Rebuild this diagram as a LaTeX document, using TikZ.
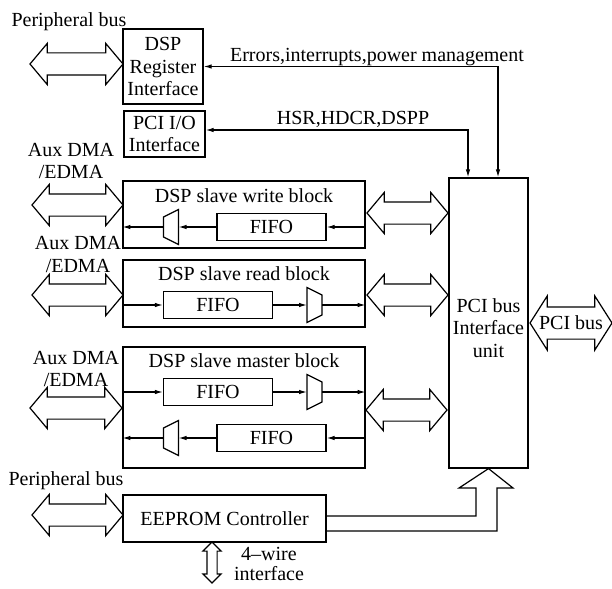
\documentclass[tikz,border=0pt]{standalone}
\usepackage{fontspec}
\setmainfont{Liberation Serif}
\usetikzlibrary{arrows.meta,shapes.arrows,calc}

\tikzset{
  blk/.style={draw,rectangle,inner sep=0pt},
  fifo/.style={blk,minimum width=109pt,minimum height=27pt},
  bus/.style={draw,double arrow,inner xsep=0pt,inner ysep=10.5pt,
    double arrow head extend=9.5pt,double arrow tip angle=100},
  muxrl/.pic={
    \draw (-7.5,-10) -- (7.5,-17.5) -- (7.5,17.5) -- (-7.5,10) -- cycle;
    \coordinate (-in) at (7.5,0);
    \coordinate (-out) at (-7.5,0);
  },
  muxlr/.pic={
    \draw (-7.5,-17.5) -- (7.5,-10) -- (7.5,10) -- (-7.5,17.5) -- cycle;
    \coordinate (-in) at (-7.5,0);
    \coordinate (-out) at (7.5,0);
  },
}

\begin{document}
\begin{tikzpicture}[x=1pt,y=-1pt,line width=1.2pt,
    font=\fontsize{20}{22.5}\selectfont,>={Latex[length=8pt,width=4.5pt]}]
  \useasboundingbox (0,0) rectangle (612,588);

  \node[blk,minimum width=80pt,minimum height=75pt,align=center] (reg) at (163,66.5) {DSP\\Register\\Interface};
  \node[blk,minimum width=81pt,minimum height=46pt,align=center] (pio) at (164.5,134) {PCI I/O\\Interface};
  \node[blk,minimum width=242pt,minimum height=67pt] (wblk) at (244,214.5) {};
  \node[blk,minimum width=242pt,minimum height=67pt] (rblk) at (244,293.5) {};
  \node[blk,minimum width=242pt,minimum height=121pt] (mblk) at (244,407.5) {};
  \node[blk,minimum width=203pt,minimum height=47pt] (eep) at (224.5,518.5) {EEPROM Controller};
  \node[blk,minimum width=79pt,minimum height=290pt] (pci) at (488.5,323) {};
  \node[align=center] (pcitxt) at (488.5,328) {PCI bus\\Interface\\unit};

  \node[anchor=base] (wtitle) at (244,202) {DSP slave write block};
  \node[anchor=base] (rtitle) at (244,280) {DSP slave read block};
  \node[anchor=base] (mtitle) at (244,367) {DSP slave master block};

  \node[fifo] (wf) at (271.5,227) {FIFO};
  \node[fifo] (rf) at (218,305) {FIFO};
  \node[fifo] (mfa) at (218,392) {FIFO};
  \node[fifo] (mfb) at (271.5,438) {FIFO};
  \pic (wm) at (171,227) {muxrl};
  \pic (rm) at (314.5,305) {muxlr};
  \pic (mma) at (314.5,392) {muxlr};
  \pic (mmb) at (171,438) {muxrl};

  \draw[->] (wblk.east |- wf.east) -- (wf.east);
  \draw[->] (wf.west) -- (wm-in);
  \draw[->] (wm-out) -- (wblk.west |- wm-out);
  \draw[->] (rblk.west |- rf.west) -- (rf.west);
  \draw[->] (rf.east) -- (rm-in);
  \draw[->] (rm-out) -- (rblk.east |- rm-out);
  \draw[->] (mblk.west |- mfa.west) -- (mfa.west);
  \draw[->] (mfa.east) -- (mma-in);
  \draw[->] (mma-out) -- (mblk.east |- mma-out);
  \draw[->] (mblk.east |- mfb.east) -- (mfb.east);
  \draw[->] (mfb.west) -- (mmb-in);
  \draw[->] (mmb-out) -- (mblk.west |- mmb-out);

  \node[anchor=base] (pbusa) at (69,27) {Peripheral bus};
  \node[align=center] (auxa) at (71,161) {Aux DMA\\/EDMA};
  \node[align=center] (auxb) at (78,254.5) {Aux DMA\\/EDMA};
  \node[align=center] (auxc) at (76,369) {Aux DMA\\/EDMA};
  \node[anchor=base] (pbusb) at (66,485) {Peripheral bus};

  \node[bus,minimum height=93pt] (regbus) at (76.5,64) {};
  \node[bus,minimum height=91pt] (wbusl) at (77.5,205) {};
  \node[bus,minimum height=91pt] (rbusl) at (77.5,295) {};
  \node[bus,minimum height=92pt] (mbusl) at (76,408) {};
  \node[bus,minimum height=91pt] (ebusl) at (77.5,515) {};
  \node[bus,minimum height=81pt] (wbusr) at (407.5,213) {};
  \node[bus,minimum height=81pt] (rbusr) at (407.5,295) {};
  \node[bus,minimum height=81pt] (mbusr) at (406.5,410) {};
  \node[bus,minimum height=82pt,inner ysep=15.5pt,double arrow head extend=11pt,
    double arrow tip angle=115,label=center:PCI bus] (pcibus) at (571,323) {};
  \node[bus,rotate=90,minimum height=41pt,inner ysep=4.5pt,double arrow head extend=4pt,
    double arrow tip angle=90] (wire4) at (212,562.5) {};
  \node[align=center,font=\fontsize{20}{20}\selectfont] (wiretxt) at (269,564) {4--wire\\interface};

  \draw[<->] (reg.east) -| ([xshift=9.5pt]pci.north);
  \draw[<->] ([yshift=4pt]pio.east) -| ([xshift=-20.5pt]pci.north);
  \node[anchor=base] (errlbl) at (377,62) {Errors,interrupts,power management};
  \node[anchor=base] (hsrlbl) at (353,125) {HSR,HDCR,DSPP};

  \draw ([yshift=2.5pt]eep.east) -| (476,488) -- (459,488) -- (pci.south)
    -- (513,488) -- (497,488) |- ([yshift=-12.5pt]eep.east);
\end{tikzpicture}
\end{document}
